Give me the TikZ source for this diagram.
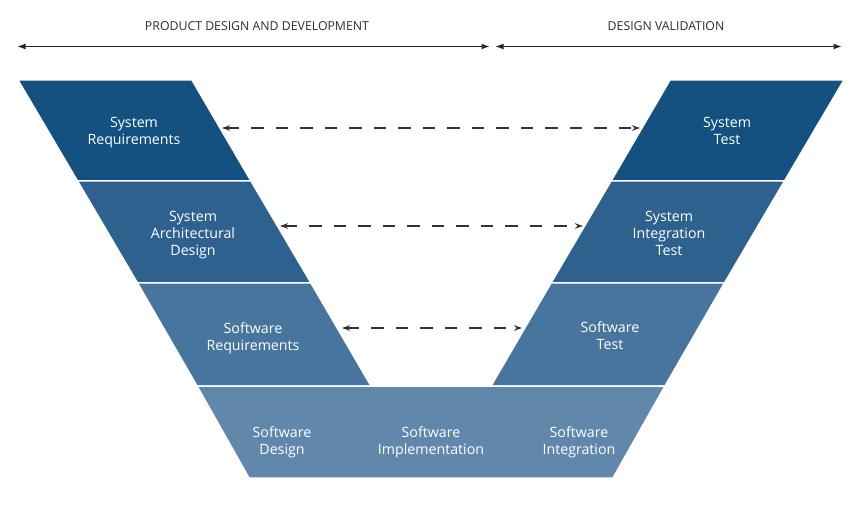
\documentclass[tikz,border=0pt]{standalone}
\usepackage{fontspec}
\setmainfont{Open Sans}
\usetikzlibrary{arrows.meta}
\definecolor{vblueA}{RGB}{20,80,128}
\definecolor{vblueB}{RGB}{46,97,142}
\definecolor{vblueC}{RGB}{72,117,158}
\definecolor{vblueD}{RGB}{97,135,170}
\definecolor{headgray}{RGB}{45,45,45}

\begin{document}
\begin{tikzpicture}[
    x=1pt, y=-1pt,
    font=\fontsize{14.2}{17}\selectfont,
    band/.style={draw=white, line width=1.5pt},
    lbl/.style={text=white, align=center, inner sep=0pt},
    hdr/.style={font=\fontsize{12.3}{15}\selectfont, text=headgray, inner sep=0pt},
    span/.style={{Latex[length=8.5pt,width=6pt]}-{Latex[length=8.5pt,width=6pt]},
                 line width=1.6pt, color=black!85},
    link/.style={{Stealth[length=8pt,width=5.5pt]}-{Stealth[length=8pt,width=5.5pt]},
                 line width=1.6pt, dash pattern=on 12.5pt off 12pt, color=black!80}
]
\useasboundingbox (0,0) rectangle (855,505);

% phase headers
\node[hdr] (pdd) at (257, 26) {PRODUCT DESIGN AND DEVELOPMENT};
\node[hdr] (dv)  at (666, 26) {DESIGN VALIDATION};
\coordinate (pdd-w) at (17, 46.5);
\coordinate (pdd-e) at (490, 46.5);
\coordinate (dv-w)  at (495, 46.5);
\coordinate (dv-e)  at (842, 46.5);
\draw[span] (pdd-w) -- (pdd-e);
\draw[span] (dv-w) -- (dv-e);

% left leg of the V
\path[band, fill=vblueA] (18,80) -- (192,80) -- (251,181) -- (77.5,181) -- cycle;
\path[band, fill=vblueB] (77.5,181) -- (251,181) -- (311,283) -- (137.5,283) -- cycle;
\path[band, fill=vblueC] (137.5,283) -- (311,283) -- (371,386) -- (197,386) -- cycle;

% right leg of the V
\path[band, fill=vblueA] (670,80) -- (844,80) -- (784.5,181) -- (611,181) -- cycle;
\path[band, fill=vblueB] (611,181) -- (784.5,181) -- (724.5,283) -- (551,283) -- cycle;
\path[band, fill=vblueC] (551,283) -- (724.5,283) -- (665,386) -- (491,386) -- cycle;

% bottom of the V
\path[band, fill=vblueD] (197,386) -- (665,386) -- (613,478) -- (249,478) -- cycle;

\node[lbl] (sysreq)  at (134, 133) {System\\Requirements};
\node[lbl] (sysarch) at (193, 235) {System\\Architectural\\Design};
\node[lbl] (swreq)   at (253, 338) {Software\\Requirements};
\node[lbl] (systest) at (727, 131) {System\\Test};
\node[lbl] (sysint)  at (669, 233) {System\\Integration\\Test};
\node[lbl] (swtest)  at (610, 336) {Software\\Test};
\node[lbl] (swdes)   at (282, 442) {Software\\Design};
\node[lbl] (swimpl)  at (431, 442) {Software\\Implementation};
\node[lbl] (swint)   at (579, 442) {Software\\Integration};

% verification links
\coordinate (sysreq-e)  at (222, 128);
\coordinate (systest-w) at (640, 128);
\coordinate (sysarch-e) at (280, 226);
\coordinate (sysint-w)  at (583, 226);
\coordinate (swreq-e)   at (342, 328);
\coordinate (swtest-w)  at (522, 328);
\draw[link] (sysreq-e) -- (systest-w);
\draw[link] (sysarch-e) -- (sysint-w);
\draw[link] (swreq-e) -- (swtest-w);
\end{tikzpicture}
\end{document}
